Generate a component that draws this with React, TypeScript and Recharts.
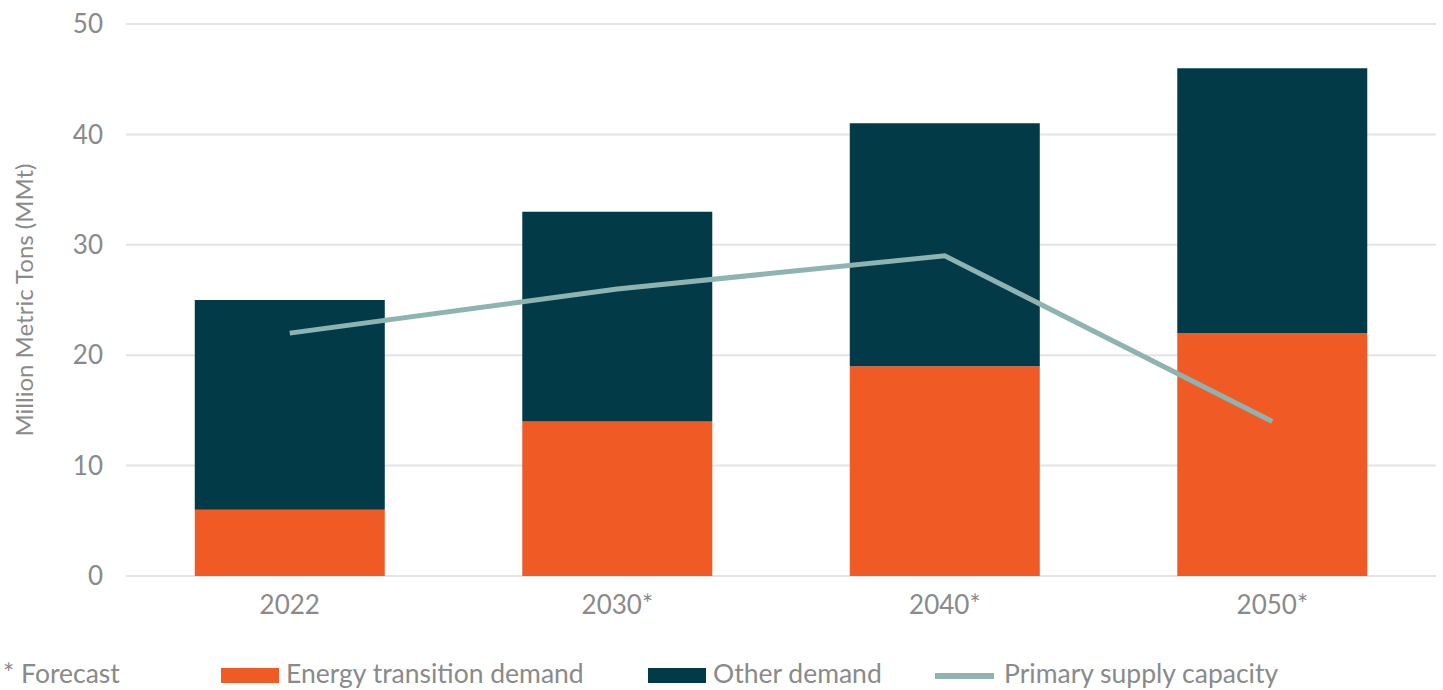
import React from 'react';
import { ComposedChart, Bar, Line, XAxis, YAxis, CartesianGrid } from 'recharts';

const years: string[] = ['2022', '2030*', '2040*', '2050*'];
const energyTransition: number[] = [6, 14, 19, 22];
const otherDemand: number[] = [19, 19, 22, 24];
const primarySupply: number[] = [22, 26, 29, 14];
const yTicks: number[] = [0, 10, 20, 30, 40, 50];

const data = years.map((year, i) => ({
  year,
  energy: energyTransition[i],
  other: otherDemand[i],
  supply: primarySupply[i],
}));

const ORANGE = '#F05A24';
const DARK = '#023A48';
const TEAL = '#8FB3B1';
const TEXT = '#8a8a8a';
const FONT = 'Lato, "Open Sans", sans-serif';

const App: React.FC = () => {
  return (
    <div style={{ position: 'absolute', left: 0, top: 0, width: 1443, height: 690, background: '#fff', fontFamily: FONT }}>
      <ComposedChart
        width={1443}
        height={640}
        data={data}
        margin={{ top: 24, right: 7, left: 0, bottom: 0 }}
        barCategoryGap="21%"
      >
        <CartesianGrid vertical={false} stroke="#e4e4e4" strokeWidth={2} />
        <XAxis
          dataKey="year"
          axisLine={false}
          tickLine={false}
          tickSize={0}
          tickMargin={20}
          height={64}
          tick={{ fill: TEXT, fontSize: 26, fontFamily: FONT }}
        />
        <YAxis
          width={126}
          domain={[0, 50]}
          ticks={yTicks}
          axisLine={false}
          tickLine={false}
          tickSize={0}
          tickMargin={23}
          tick={{ fill: TEXT, fontSize: 26, fontFamily: FONT }}
          label={{
            value: 'Million Metric Tons (MMt)',
            angle: -90,
            position: 'insideLeft',
            offset: 24,
            style: { fill: TEXT, fontSize: 24, fontFamily: FONT, textAnchor: 'middle' },
          }}
        />
        <Bar dataKey="energy" stackId="a" fill={ORANGE} isAnimationActive={false} />
        <Bar dataKey="other" stackId="a" fill={DARK} isAnimationActive={false} />
        <Line
          type="linear"
          dataKey="supply"
          stroke={TEAL}
          strokeWidth={5}
          dot={false}
          activeDot={false}
          isAnimationActive={false}
        />
      </ComposedChart>
      <div style={{ position: 'absolute', top: 656, left: 0, width: 1443, height: 34, color: TEXT, fontSize: 26.5 }}>
        <span style={{ position: 'absolute', left: 3, top: 0, lineHeight: '34px' }}>* Forecast</span>
        <span style={{ position: 'absolute', left: 221, top: 12, width: 58, height: 15, background: ORANGE }} />
        <span style={{ position: 'absolute', left: 286, top: 0, lineHeight: '34px' }}>Energy transition demand</span>
        <span style={{ position: 'absolute', left: 648, top: 12, width: 58, height: 15, background: DARK }} />
        <span style={{ position: 'absolute', left: 713, top: 0, lineHeight: '34px' }}>Other demand</span>
        <span style={{ position: 'absolute', left: 935, top: 17, width: 59, height: 6, background: TEAL }} />
        <span style={{ position: 'absolute', left: 1004, top: 0, lineHeight: '34px' }}>Primary supply capacity</span>
      </div>
    </div>
  );
};

export default App;
